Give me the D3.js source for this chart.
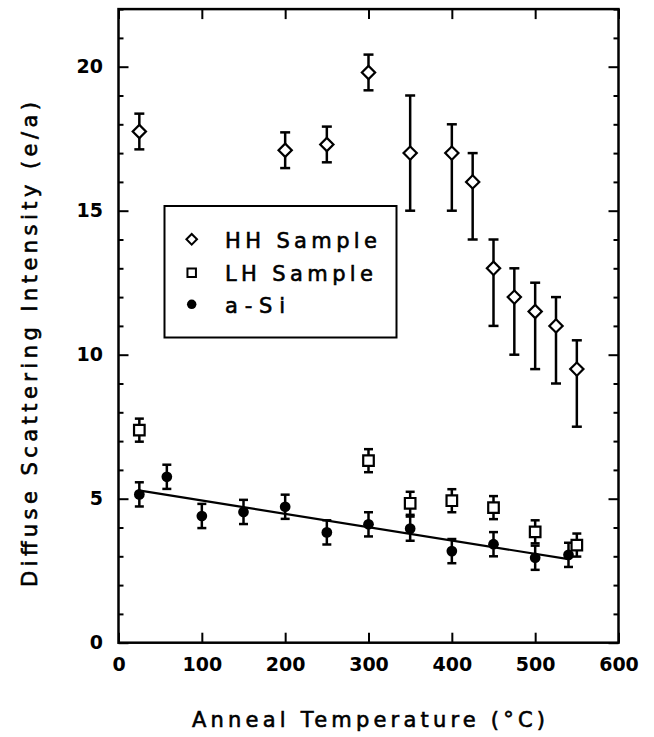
<!DOCTYPE html>
<html>
<head>
<meta charset="utf-8">
<script src="https://cdn.jsdelivr.net/npm/d3@7"></script>
<style>
  html, body { margin: 0; padding: 0; background: #fff; }
  svg text { font-family: "DejaVu Sans", sans-serif; fill: #000; }
  .heavy { stroke: #000; stroke-width: 0.6px; }
</style>
</head>
<body>
<svg id="chart" width="654" height="737"></svg>
<script>
// HH sample (open diamonds), error bars are asymmetric above 300 C
const hhTemp = [25, 200, 250, 300, 350, 400, 425, 450, 475, 500, 525, 550];
const hhValue = [17.75, 17.1, 17.3, 19.8, 17, 17, 16, 13, 12, 11.5, 11, 9.5];
const hhErrUp = [0.62, 0.62, 0.62, 0.62, 2, 1, 1, 1, 1, 1, 1, 1];
const hhErrDown = [0.62, 0.62, 0.62, 0.62, 2, 2, 2, 2, 2, 2, 2, 2];

// LH sample (open squares)
const lhTemp = [25, 300, 350, 400, 450, 500, 550];
const lhValue = [7.38, 6.32, 4.84, 4.93, 4.69, 3.85, 3.39];
const lhErr = [0.4, 0.4, 0.4, 0.4, 0.4, 0.4, 0.4];

// a-Si (filled circles)
const siTemp = [25, 58, 100, 150, 200, 250, 300, 350, 400, 450, 500, 540];
const siValue = [5.15, 5.76, 4.4, 4.54, 4.72, 3.83, 4.11, 3.96, 3.18, 3.42, 2.95, 3.05];
const siErr = [0.42, 0.42, 0.42, 0.42, 0.42, 0.42, 0.42, 0.42, 0.42, 0.42, 0.42, 0.42];

// linear fit through a-Si
const fitTemp = [28, 540];
const fitValue = [5.27, 2.9];

const xTicks = [0, 100, 200, 300, 400, 500, 600];
const yTicks = [0, 5, 10, 15, 20];
const yMinor = d3.range(0, 23, 1);

const svg = d3.select("#chart");
const x = d3.scaleLinear().domain([0, 600]).range([118.5, 618.5]);
const y = d3.scaleLinear().domain([0, 22]).range([642.7, 9.1]);

const toPts = (t, v, up, dn) => t.map((d, i) => ({ t: d, v: v[i], up: up ? up[i] : 0, dn: dn ? dn[i] : 0 }));
const hh = toPts(hhTemp, hhValue, hhErrUp, hhErrDown);
const lh = toPts(lhTemp, lhValue, lhErr, lhErr);
const si = toPts(siTemp, siValue, siErr, siErr);

// axes: ticks point inward
function styleAxis(g) {
  g.select(".domain").remove();
  g.selectAll(".tick line").attr("stroke", "#000").attr("stroke-width", 2);
  g.selectAll("text").style("font-family", "DejaVu Sans").style("font-weight", "bold").style("font-size", "19px");
}

svg.append("g").attr("transform", `translate(0,${y(0)})`)
  .call(d3.axisBottom(x).tickValues(xTicks).tickSizeInner(-10).tickSizeOuter(0).tickPadding(15).tickFormat(d3.format("d")))
  .call(styleAxis);
svg.append("g").attr("transform", `translate(0,${y(22)})`)
  .call(d3.axisTop(x).tickValues(xTicks).tickSizeInner(-10).tickSizeOuter(0).tickFormat(""))
  .call(styleAxis);
svg.append("g").attr("transform", `translate(${x(0)},0)`)
  .call(d3.axisLeft(y).tickValues(yMinor.filter(d => d % 5 !== 0)).tickSizeInner(-5).tickSizeOuter(0).tickFormat(""))
  .call(styleAxis);
svg.append("g").attr("transform", `translate(${x(0)},0)`)
  .call(d3.axisLeft(y).tickValues(yTicks).tickSizeInner(-10).tickSizeOuter(0).tickPadding(15.5).tickFormat(d3.format("d")))
  .call(styleAxis);
svg.append("g").attr("transform", `translate(${x(600)},0)`)
  .call(d3.axisRight(y).tickValues(yMinor.filter(d => d % 5 !== 0)).tickSizeInner(-5).tickSizeOuter(0).tickFormat(""))
  .call(styleAxis);
svg.append("g").attr("transform", `translate(${x(600)},0)`)
  .call(d3.axisRight(y).tickValues(yTicks).tickSizeInner(-10).tickSizeOuter(0).tickFormat(""))
  .call(styleAxis);

// frame
svg.append("rect")
  .attr("x", x(0)).attr("y", y(22))
  .attr("width", x(600) - x(0)).attr("height", y(0) - y(22))
  .attr("fill", "none").attr("stroke", "#000").attr("stroke-width", 2.5);

// fit line
const line = d3.line().x(d => x(d[0])).y(d => y(d[1]));
svg.append("path")
  .attr("d", line(fitTemp.map((t, i) => [t, fitValue[i]])))
  .attr("fill", "none").attr("stroke", "#000").attr("stroke-width", 2.2);

function errorBars(data, cap) {
  const g = svg.append("g").attr("stroke", "#000").attr("stroke-width", 2.5);
  data.forEach(d => {
    const cx = x(d.t), top = y(d.v + d.up), bot = y(d.v - d.dn);
    g.append("line").attr("x1", cx).attr("x2", cx).attr("y1", top).attr("y2", bot);
    g.append("line").attr("x1", cx - cap / 2).attr("x2", cx + cap / 2).attr("y1", top).attr("y2", top);
    g.append("line").attr("x1", cx - cap / 2).attr("x2", cx + cap / 2).attr("y1", bot).attr("y2", bot);
  });
}
errorBars(hh, 10);
errorBars(lh, 9);
errorBars(si, 9);

const diamond = d3.symbol().type(d3.symbolSquare).size(88);
const square = d3.symbol().type(d3.symbolSquare).size(112);
const circle = d3.symbol().type(d3.symbolCircle).size(90);

svg.append("g").selectAll("path").data(hh).join("path")
  .attr("d", diamond)
  .attr("transform", d => `translate(${x(d.t)},${y(d.v)}) rotate(45)`)
  .attr("fill", "#fff").attr("stroke", "#000").attr("stroke-width", 2.2);
svg.append("g").selectAll("path").data(lh).join("path")
  .attr("d", square)
  .attr("transform", d => `translate(${x(d.t)},${y(d.v)})`)
  .attr("fill", "#fff").attr("stroke", "#000").attr("stroke-width", 2.2);
svg.append("g").selectAll("path").data(si).join("path")
  .attr("d", circle)
  .attr("transform", d => `translate(${x(d.t)},${y(d.v)})`)
  .attr("fill", "#000");

// legend
const legend = svg.append("g");
legend.append("rect")
  .attr("x", 164.5).attr("y", 206).attr("width", 232).attr("height", 131.5)
  .attr("fill", "#fff").attr("stroke", "#000").attr("stroke-width", 2);
const legItems = [
  { label: "HH Sample", sym: d3.symbol().type(d3.symbolSquare).size(56), rot: 45, fill: "#fff", y: 248.3, cy: 239.3, w: 152 },
  { label: "LH Sample", sym: d3.symbol().type(d3.symbolSquare).size(72), rot: 0, fill: "#fff", y: 281, cy: 272.7, w: 148 },
  { label: "a-Si", sym: d3.symbol().type(d3.symbolCircle).size(70), rot: 0, fill: "#000", y: 313.3, cy: 304.3, w: 60 }
];
legItems.forEach(it => {
  legend.append("path").attr("d", it.sym())
    .attr("transform", `translate(191.7,${it.cy}) rotate(${it.rot})`)
    .attr("fill", it.fill).attr("stroke", it.fill === "#000" ? "none" : "#000").attr("stroke-width", 2);
  legend.append("text").attr("class", "heavy").attr("x", 225).attr("y", it.y)
    .attr("textLength", it.w).attr("lengthAdjust", "spacing")
    .style("font-size", "21px").text(it.label);
});

// axis titles
svg.append("text").attr("class", "heavy")
  .attr("x", 192).attr("y", 726.7)
  .attr("textLength", 353).attr("lengthAdjust", "spacing")
  .style("font-size", "21px")
  .text("Anneal Temperature (°C)");

svg.append("text").attr("class", "heavy")
  .attr("transform", "translate(36.7,587) rotate(-90)")
  .attr("x", 0).attr("y", 0)
  .attr("textLength", 485).attr("lengthAdjust", "spacing")
  .style("font-size", "21px")
  .text("Diffuse Scattering Intensity (e/a)");
</script>
</body>
</html>
